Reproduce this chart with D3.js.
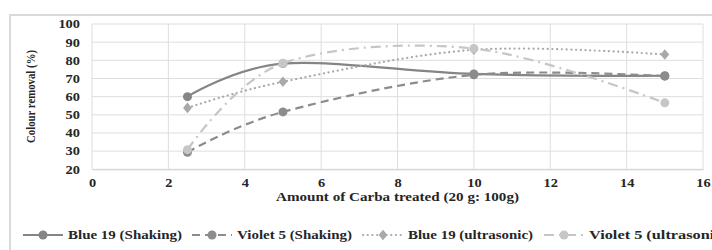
<!DOCTYPE html>
<html>
<head>
<meta charset="utf-8">
<script src="https://cdn.jsdelivr.net/npm/d3@7"></script>
<style>
  body { margin: 0; background: #fff; }
  text { font-family: "Liberation Serif", "Times New Roman", serif; font-weight: bold; fill: #262626; }
</style>
</head>
<body>
<svg id="mainsvg" width="712" height="250"></svg>
<script>
// data
let xValues = [2.5, 5, 10, 15];
let blueShaking = [60, 78.2, 72.5, 71.5];
let violetShaking = [29.4, 51.6, 72, 71.3];
let blueUltra = [53.8, 68.2, 85.8, 83.2];
let violetUltra = [30.8, 78.4, 86.5, 56.6];
let seriesNames = ["Blue 19 (Shaking)", "Violet 5 (Shaking)", "Blue 19 (ultrasonic)", "Violet 5 (ultrasonic)"];
let xTicks = [0, 2, 4, 6, 8, 10, 12, 14, 16];
let yTicks = [20, 30, 40, 50, 60, 70, 80, 90, 100];

let series = [
    {name: seriesNames[0], values: blueShaking, color: "#858585", dash: null, cap: "butt", marker: "circle"},
    {name: seriesNames[1], values: violetShaking, color: "#8c8c8c", dash: "8,5", cap: "butt", marker: "circle"},
    {name: seriesNames[2], values: blueUltra, color: "#a9a9a9", dash: "0.1,4.6", cap: "round", marker: "diamond"},
    {name: seriesNames[3], values: violetUltra, color: "#c6c6c6", dash: "10,5,2,5", cap: "butt", marker: "circle"}
];

let svg = d3.select("#mainsvg");

// chart frame
svg.append("rect")
    .attr("x", 10).attr("y", 15)
    .attr("width", 740).attr("height", 280)
    .attr("fill", "none")
    .attr("stroke", "#d9d9d9")
    .attr("stroke-width", 2);

let x = d3.scaleLinear().domain([0, 16]).range([92, 703]);
let y = d3.scaleLinear().domain([20, 100]).range([169.3, 24]);

// grid
let grid = svg.append("g");
grid.selectAll(".hgrid").data(yTicks).enter()
    .append("line")
    .attr("x1", x(0)).attr("x2", x(16))
    .attr("y1", d => y(d)).attr("y2", d => y(d))
    .attr("stroke", "#dedede").attr("stroke-width", 1);
grid.selectAll(".vgrid").data(xTicks).enter()
    .append("line")
    .attr("x1", d => x(d)).attr("x2", d => x(d))
    .attr("y1", y(20)).attr("y2", y(100))
    .attr("stroke", "#dedede").attr("stroke-width", 1);

// axes (labels widened a bit like the original)
let xAxis = svg.append("g")
    .attr("transform", "translate(0," + y(20) + ")")
    .call(d3.axisBottom(x).tickValues(xTicks).tickSize(0).tickPadding(9));
xAxis.select(".domain").attr("stroke", "#d0d0d0");
xAxis.selectAll(".tick text").style("font-size", "12px").attr("font-family", null)
    .attr("transform", "scale(1.2,1)");

let yAxis = svg.append("g")
    .attr("transform", "translate(" + (x(0) - 12) + ",0)")
    .call(d3.axisLeft(y).tickValues(yTicks).tickSize(0).tickPadding(0));
yAxis.select(".domain").remove();
yAxis.selectAll(".tick text").style("font-size", "12px").attr("font-family", null)
    .attr("transform", "scale(1.2,1)");

// axis titles
svg.append("text")
    .attr("x", (x(0) + x(16)) / 2)
    .attr("y", 201)
    .attr("text-anchor", "middle")
    .attr("textLength", 243)
    .attr("lengthAdjust", "spacingAndGlyphs")
    .style("font-size", "13px")
    .text("Amount of Carba treated (20 g: 100g)");

svg.append("text")
    .attr("transform", "translate(35,96.5) rotate(-90)")
    .attr("text-anchor", "middle")
    .attr("textLength", 93)
    .attr("lengthAdjust", "spacingAndGlyphs")
    .style("font-size", "13.5px")
    .text("Colour removal (%)");

// smoothed lines, like the spreadsheet's smooth option
let line = d3.line()
    .x((d, i) => x(xValues[i]))
    .y(d => y(d))
    .curve(d3.curveCatmullRom.alpha(0));

let diamond = d3.symbol().type(d3.symbolDiamond).size(40);

function drawMarker(g, s, cx, cy) {
    if (s.marker === "circle") {
        g.append("circle").attr("cx", cx).attr("cy", cy).attr("r", 4.5).attr("fill", s.color);
    } else {
        g.append("path").attr("d", diamond())
            .attr("transform", "translate(" + cx + "," + cy + ") scale(1.3,0.9)")
            .attr("fill", s.color);
    }
}

let plotg = svg.append("g");
for (let s of series) {
    plotg.append("path")
        .attr("d", line(s.values))
        .attr("fill", "none")
        .attr("stroke", s.color)
        .attr("stroke-width", 2.2)
        .attr("stroke-dasharray", s.dash)
        .attr("stroke-linecap", s.cap);
    s.values.forEach((v, i) => drawMarker(plotg, s, x(xValues[i]), y(v)));
}

// legend
let legendPos = [{tx: 68, w: 114}, {tx: 237, w: 115}, {tx: 408, w: 125}, {tx: 589, w: 138}];
let legend = svg.append("g");
series.forEach((s, i) => {
    let p = legendPos[i];
    let ly = 235;
    let x1 = p.tx - 45, x2 = p.tx - 5;
    legend.append("line")
        .attr("x1", x1).attr("x2", x2)
        .attr("y1", ly).attr("y2", ly)
        .attr("stroke", s.color).attr("stroke-width", 2.2)
        .attr("stroke-dasharray", s.dash)
        .attr("stroke-linecap", s.cap);
    drawMarker(legend, s, (x1 + x2) / 2, ly);
    legend.append("text")
        .attr("x", p.tx).attr("y", ly + 4)
        .attr("textLength", p.w)
        .attr("lengthAdjust", "spacingAndGlyphs")
        .style("font-size", "13px")
        .text(s.name);
});
</script>
</body>
</html>
